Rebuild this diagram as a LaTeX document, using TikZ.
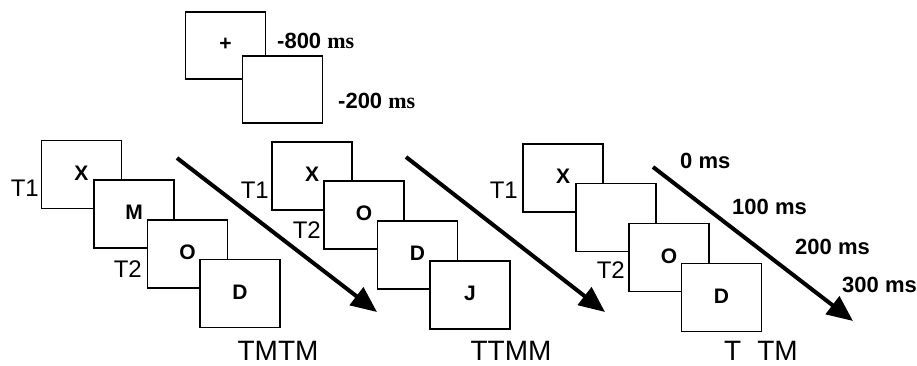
\documentclass[tikz,border=0pt]{standalone}
\usepackage{fontspec}
\setmainfont{Liberation Sans}
\newfontfamily\timesfont{Liberation Serif}
\usetikzlibrary{arrows.meta}
\tikzset{
  frame/.style={draw, fill=white, line width=1.1pt, minimum width=80pt, minimum height=68pt,
                inner sep=0pt, text depth=3pt, font=\fontsize{21}{21}\selectfont\bfseries},
  tlabel/.style={anchor=east, inner sep=0pt, font=\fontsize{24}{24}\selectfont},
  timelabel/.style={anchor=west, inner sep=0pt, font=\fontsize{22}{22}\selectfont\bfseries},
  seqlabel/.style={inner sep=0pt, font=\fontsize{28}{28}\selectfont},
  timearrow/.style={line width=4pt, -{Triangle[length=26pt,width=22pt]}},
}
\begin{document}
\begin{tikzpicture}[x=1pt,y=-1pt]
\useasboundingbox (0,0) rectangle (917,366);

% fixation and blank screens before the stream
\node[frame, minimum height=67pt] (fix) at (225.5,45.5) {+};
\node[frame, minimum height=67pt] (blank) at (282.5,89.5) {};
\node[timelabel] (t800) at (277,41) {-800 {\timesfont\bfseries ms}};
\node[timelabel] (t200) at (338,101) {-200 {\timesfont\bfseries ms}};

% TMTM sequence
\node[frame] (a1) at (81.5,174.5) {X};
\node[frame] (a2) at (134,214) {M};
\node[frame] (a3) at (187.5,254) {O};
\node[frame] (a4) at (240,293.5) {D};
\node[tlabel] (a1t) at (39,188) {T1};
\node[tlabel] (a3t) at (142,269) {T2};
\node[seqlabel] (aseq) at (278,351) {TMTM};

% TTMM sequence
\node[frame] (b1) at (312,176) {X};
\node[frame] (b2) at (364,215) {O};
\node[frame] (b3) at (417.5,255) {D};
\node[frame] (b4) at (470,295) {J};
\node[tlabel] (b1t) at (269,190) {T1};
\node[tlabel] (b2t) at (321,230) {T2};
\node[seqlabel] (bseq) at (511,351) {TTMM};

% T_TM sequence
\node[frame] (c1) at (563,178) {X};
\node[frame] (c2) at (616,217.5) {};
\node[frame] (c3) at (669,257.5) {O};
\node[frame] (c4) at (721.5,297.5) {D};
\node[tlabel] (c1t) at (518,190) {T1};
\node[tlabel] (c3t) at (625,270) {T2};
\node[seqlabel] (cseq) at (761,351) {T\hspace{16pt}TM};

% time arrows
\coordinate (p1s) at (177,158);
\coordinate (p1e) at (377,312);
\coordinate (p2s) at (406,157);
\coordinate (p2e) at (605,312);
\coordinate (p3s) at (653,167);
\coordinate (p3e) at (853,321);
\draw[timearrow] (p1s) -- (p1e);
\draw[timearrow] (p2s) -- (p2e);
\draw[timearrow] (p3s) -- (p3e);

% onset times
\node[timelabel] (m0) at (680,161) {0 ms};
\node[timelabel] (m100) at (732,207) {100 ms};
\node[timelabel] (m200) at (795,247) {200 ms};
\node[timelabel] (m300) at (842,285) {300 ms};
\end{tikzpicture}
\end{document}
